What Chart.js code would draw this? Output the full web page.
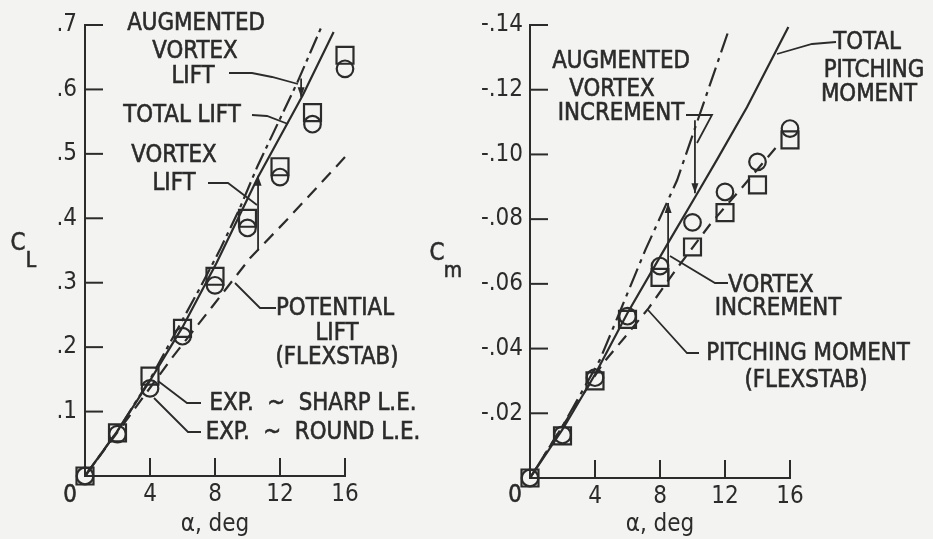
<!DOCTYPE html>
<html lang="en">
<head>
<meta charset="UTF-8">
<title>Lift and pitching moment</title>
<script src="https://cdn.jsdelivr.net/npm/chart.js@4.4.3/dist/chart.umd.min.js"></script>
<style>
  body { margin: 0; background: #f3f3f1; }
  #wrap { position: relative; width: 933px; height: 539px; }
  canvas { position: absolute; left: 0; top: 0; }
</style>
</head>
<body>
<div id="wrap">
  <canvas id="lift" width="933" height="539"></canvas>
  <canvas id="moment" width="933" height="539"></canvas>
</div>
<script>
// experiment, angle of attack in deg
const alphaExp = [0, 2, 4, 6, 8, 10, 12, 14, 16];
const clSharp = [0, 0.067, 0.155, 0.229, 0.310, 0.400, 0.480, 0.564, 0.653];
const clRound = [0, 0.065, 0.136, 0.217, 0.296, 0.385, 0.464, 0.546, 0.632];
const cmSharp = [0, -0.013, -0.030, -0.049, -0.062, -0.0714, -0.082, -0.0906, -0.1045];
const cmRound = [0, -0.0133, -0.031, -0.050, -0.0655, -0.079, -0.0884, -0.0977, -0.108];

// theory lines
const alphaPot = [0, 2.7, 5.4, 7.8, 10.15, 12.4, 16];
const clPot = [0, 0.092, 0.185, 0.262, 0.338, 0.397, 0.495];
const alphaTot = [0, 2, 4, 6, 8.1, 10.65, 13.4, 15.3];
const clTot = [0, 0.07, 0.148, 0.231, 0.331, 0.464, 0.591, 0.689];
const alphaAug = [0, 2, 4, 7.1, 8.3, 9.55, 10.6, 13.05, 14.6];
const clAug = [0, 0.07, 0.15, 0.293, 0.351, 0.417, 0.48, 0.61, 0.70];

const alphaCmTot = [0, 2, 4, 6, 8.6, 10.3, 11.5, 13.35, 15.9];
const cmTot = [0, -0.015, -0.032, -0.051, -0.0735, -0.088, -0.0983, -0.1146, -0.1394];
const alphaCmAug = [0, 2, 4.3, 5.5, 7.1, 9.05, 10.9, 12.2];
const cmAug = [0, -0.016, -0.0365, -0.051, -0.0705, -0.092, -0.119, -0.138];
const alphaCmFlex = [0, 2, 4.5, 5.85, 7.3, 9, 11.1, 13, 15.2];
const cmFlex = [0, -0.016, -0.0355, -0.0436, -0.0525, -0.0645, -0.0785, -0.0895, -0.1025];

// increment arrows: [alpha, from, to]  (head at "to")
const liftArrows = [[10.65, 0.35, 0.466], [13.3, 0.617, 0.588]];
const momentArrows = [[10.15, -0.1106, -0.088], [8.5, -0.061, -0.085]];

const INK = '#2b2b2b';
const FONT = "'Liberation Sans Narrow', 'DejaVu Sans Condensed', 'DejaVu Sans', sans-serif";
const SX = 0.95;   // horizontal squeeze of the annotation lettering
Chart.defaults.font.family = FONT;
Chart.defaults.color = INK;

function pts(xs, ys) {
    return xs.map((x, i) => ({ x: x, y: ys[i] }));
}
function curve(label, xs, ys, dash) {
    return {
        label: label, data: pts(xs, ys), showLine: true, borderColor: INK,
        borderWidth: 2.2, borderDash: dash, pointRadius: 0, tension: 0, clip: false
    };
}
function marks(label, xs, ys, style, r) {
    return {
        label: label, data: pts(xs, ys), showLine: false, pointStyle: style,
        pointRadius: r, pointBorderColor: INK, pointBackgroundColor: 'rgba(0,0,0,0)',
        pointBorderWidth: 2.2, clip: false
    };
}

function line(ctx, p) {
    ctx.beginPath();
    ctx.moveTo(p[0][0], p[0][1]);
    for (let i = 1; i < p.length; i++) ctx.lineTo(p[i][0], p[i][1]);
    ctx.stroke();
}

// inner tick marks, lettering, leaders and increment arrows
const notes = {
    id: 'notes',
    afterDraw(chart, args, opts) {
        const ctx = chart.ctx;
        const sx = chart.scales.x, sy = chart.scales.y;
        ctx.save();
        ctx.strokeStyle = INK;
        ctx.fillStyle = INK;
        ctx.lineWidth = 2;
        sy.ticks.forEach(t => {
            if (Math.abs(t.value) < 1e-9) return;
            const y = sy.getPixelForValue(t.value);
            line(ctx, [[sx.left, y], [sx.left + 18, y]]);
        });
        sx.ticks.forEach(t => {
            if (Math.abs(t.value) < 1e-9) return;
            const x = sx.getPixelForValue(t.value);
            line(ctx, [[x, sy.bottom], [x, sy.bottom - 18]]);
        });

        ctx.lineWidth = 1.8;
        opts.leaders.forEach(p => line(ctx, p));

        opts.arrows.forEach(a => {
            const x = sx.getPixelForValue(a[0]);
            const y0 = sy.getPixelForValue(a[1]);
            const y1 = sy.getPixelForValue(a[2]);
            line(ctx, [[x, y0], [x, y1]]);
            const d = y1 > y0 ? 1 : -1;
            ctx.beginPath();
            ctx.moveTo(x, y1);
            ctx.lineTo(x - 3.5, y1 - d * 10);
            ctx.lineTo(x + 3.5, y1 - d * 10);
            ctx.closePath();
            ctx.fill();
        });

        ctx.textAlign = 'center';
        ctx.textBaseline = 'middle';
        ctx.lineWidth = 0.6;
        opts.texts.forEach(t => {
            ctx.save();
            ctx.translate(t[1], t[2]);
            ctx.scale(SX, 1);
            ctx.font = (t[3] || 25) + 'px ' + FONT;
            ctx.fillText(t[0], 0, 0);
            ctx.strokeText(t[0], 0, 0);
            ctx.restore();
        });
        ctx.restore();
    }
};

function axisX(height) {
    return {
        type: 'linear', min: 0, max: 16,
        ticks: {
            stepSize: 4, autoSkip: false, maxRotation: 0, padding: 4,
            font: { size: 24 }, color: INK,
            callback: v => (v === 0 ? '' : String(v))
        },
        grid: { display: false, drawTicks: false },
        border: { display: true, color: INK, width: 2 },
        title: { display: true, text: 'α, deg', color: INK, font: { size: 24 }, padding: { top: 0, bottom: 0 } },
        afterFit: s => { s.height = height; }
    };
}

new Chart(document.getElementById('lift'), {
    type: 'scatter',
    data: {
        datasets: [
            curve('Potential lift (FLEXSTAB)', alphaPot, clPot, [13, 8]),
            curve('Total lift', alphaTot, clTot, []),
            curve('Augmented vortex lift', alphaAug, clAug, [18, 5, 4, 5]),
            marks('Exp. - round L.E.', alphaExp, clRound, 'circle', 8.3),
            marks('Exp. - sharp L.E.', alphaExp, clSharp, 'rect', 12)
        ]
    },
    plugins: [notes],
    options: {
        animation: false, responsive: false, devicePixelRatio: 1,
        layout: { padding: { left: 0, right: 588, top: 25, bottom: 0 } },
        plugins: {
            legend: { display: false }, tooltip: { enabled: false },
            notes: {
                texts: [
                    ['AUGMENTED', 196, 23], ['VORTEX', 195, 51], ['LIFT', 193, 76],
                    ['TOTAL LIFT', 182, 115],
                    ['VORTEX', 174, 155], ['LIFT', 174, 183],
                    ['POTENTIAL', 335, 308], ['LIFT', 337, 333], ['(FLEXSTAB)', 337, 357],
                    ['EXP.  ~  SHARP L.E.', 313, 403], ['EXP.  ~  ROUND L.E.', 313, 432],
                    ['0', 70, 495],
                    ['C', 18, 243], ['L', 31, 261, 22]
                ],
                leaders: [
                    [[229, 73], [252, 73], [272, 77], [298, 84]],
                    [[252, 115], [267, 116], [288, 124]],
                    [[208, 183], [228, 183], [257, 205]],
                    [[276, 308], [260, 308], [235, 283]],
                    [[201, 403], [187, 403], [158, 381]],
                    [[201, 432], [188, 432], [154, 398]]
                ],
                arrows: liftArrows
            }
        },
        scales: {
            x: axisX(63),
            y: {
                type: 'linear', min: 0, max: 0.7,
                ticks: {
                    stepSize: 0.1, autoSkip: false, padding: 8,
                    font: { size: 24 }, color: INK,
                    callback: v => (Math.abs(v) < 1e-9 ? '' : '.' + Math.round(v * 10))
                },
                grid: { display: false, drawTicks: false },
                border: { display: true, color: INK, width: 2 },
                afterFit: s => { s.width = 85; }
            }
        }
    }
});

new Chart(document.getElementById('moment'), {
    type: 'scatter',
    data: {
        datasets: [
            curve('Pitching moment (FLEXSTAB)', alphaCmFlex, cmFlex, [12, 8]),
            curve('Total pitching moment', alphaCmTot, cmTot, []),
            curve('Augmented vortex increment', alphaCmAug, cmAug, [20, 6, 4, 6]),
            marks('Exp. - round L.E.', alphaExp, cmRound, 'circle', 8.3),
            marks('Exp. - sharp L.E.', alphaExp, cmSharp, 'rect', 12)
        ]
    },
    plugins: [notes],
    options: {
        animation: false, responsive: false, devicePixelRatio: 1,
        layout: { padding: { left: 460, right: 143, top: 25, bottom: 0 } },
        plugins: {
            legend: { display: false }, tooltip: { enabled: false },
            notes: {
                texts: [
                    ['AUGMENTED', 621, 61], ['VORTEX', 612, 89], ['INCREMENT', 621, 113],
                    ['TOTAL', 867, 42], ['PITCHING', 874, 70], ['MOMENT', 869, 94],
                    ['VORTEX', 771, 285], ['INCREMENT', 778, 308],
                    ['PITCHING MOMENT', 808, 353], ['(FLEXSTAB)', 806, 380],
                    ['0', 515, 495],
                    ['C', 437, 253], ['m', 453, 271, 22]
                ],
                leaders: [
                    [[686, 115], [712, 115], [697, 143]],
                    [[836, 42], [812, 44], [777, 54]],
                    [[728, 283], [715, 283], [670, 256]],
                    [[699, 353], [687, 353], [648, 310]]
                ],
                arrows: momentArrows
            }
        },
        scales: {
            x: axisX(61),
            y: {
                type: 'linear', min: -0.14, max: 0, reverse: true,
                ticks: {
                    stepSize: 0.02, autoSkip: false, padding: 7,
                    font: { size: 24 }, color: INK,
                    callback: v => (Math.abs(v) < 1e-9 ? '' : '-.' + String(Math.round(-v * 100)).padStart(2, '0'))
                },
                grid: { display: false, drawTicks: false },
                border: { display: true, color: INK, width: 2 },
                afterFit: s => { s.width = 70; }
            }
        }
    }
});
</script>
</body>
</html>
